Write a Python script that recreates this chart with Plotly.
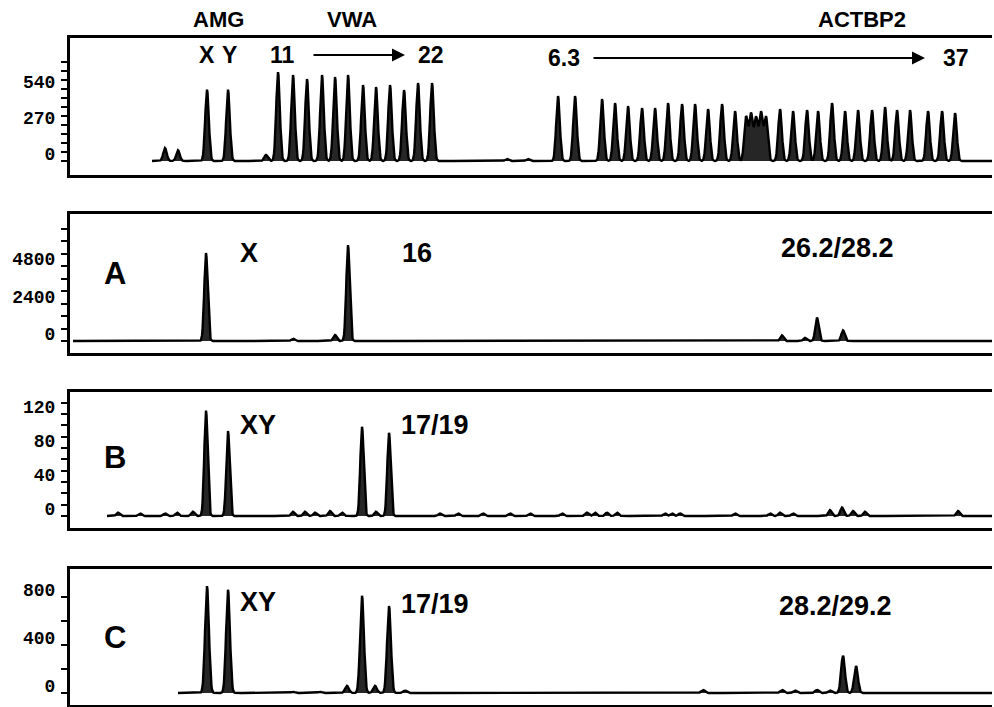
import numpy as np
import plotly.graph_objects as go

# ---------------- data ----------------
# x positions are migration positions (scan units), heights in RFU
ladder_pos = [165, 178, 207, 228, 266,
              278, 293, 307, 322, 335, 348, 363, 376, 390, 404, 418, 432,
              507, 528,
              558, 575, 602, 615, 628, 642, 655, 668, 682, 695, 708, 722, 735,
              746, 751, 756, 761, 766,
              780, 793, 807, 818, 832, 845, 858, 872, 885, 897, 910, 928, 942, 955]
ladder_h = [97, 80, 535, 535, 45,
            667, 645, 615, 645, 630, 645, 570, 555, 570, 532, 585, 585,
            15, 15,
            487, 487, 465, 435, 412, 397, 397, 435, 427, 427, 390, 427, 375,
            330, 350, 320, 360, 330,
            390, 375, 382, 375, 435, 375, 382, 382, 405, 382, 382, 375, 375, 360]

a_pos = [206, 293, 335, 348, 782, 805, 817, 843]
a_h = [5630, 150, 380, 6140, 360, 200, 1500, 680]

b_pos = [118, 140, 165, 177, 193, 206, 228, 293, 305, 315, 330, 342,
         362, 376, 389, 440, 458, 483, 510, 530, 562, 587, 595, 607, 617, 665,
         672, 680, 735, 770, 780, 793, 830, 842, 853, 865, 958]
b_h = [4, 3, 3, 4, 5, 124, 100, 5, 5, 4, 6, 4,
       105, 5, 98, 3, 3, 3, 3, 3, 3, 4, 4, 4, 4, 3,
       3, 3, 3, 3, 4, 3, 7, 10, 6, 5, 6]

c_pos = [207, 228, 293, 320, 347, 362, 375, 389, 405, 703, 782, 795, 817, 830, 843, 856]
c_h = [890, 860, 10, 10, 60, 810, 60, 725, 20, 25, 25, 20, 25, 20, 310, 225]

# trace extents (scan units)
top_span = [152, 992]
a_span = [73, 992]
b_span = [107, 992]
c_span = [178, 992]

top_ticks = [0, 67.5, 135, 202.5, 270, 337.5, 405, 472.5, 540, 607.5, 675, 742.5]
top_labels = ["0", "", "", "", "270", "", "", "", "540", "", "", ""]
a_ticks = [0, 800, 1600, 2400, 3200, 4000, 4800, 5600, 6400, 7200]
a_labels = ["0", "", "", "2400", "", "", "4800", "", "", ""]
b_ticks = [0, 13.33, 26.67, 40, 53.33, 66.67, 80, 93.33, 106.67, 120, 133.33]
b_labels = ["0", "", "", "40", "", "", "80", "", "", "120", ""]
c_ticks = [0, 200, 400, 600, 800]
c_labels = ["0", "", "400", "", "800"]


def trace_curve(pos, h, span, sigma):
    x = np.arange(span[0], span[1] + 0.25, 0.5)
    y = np.zeros_like(x)
    for p, hh in zip(pos, h):
        y += hh * np.exp(-0.5 * ((x - p) / sigma) ** 2)
    return x, y


W, H = 994, 707
fig = go.Figure()

panels = [
    (ladder_pos, ladder_h, top_span, 1.8, (38, 175), (-105, 922.5), top_ticks, top_labels),
    (a_pos, a_h, a_span, 1.7, (214, 353), (-768, 8128), a_ticks, a_labels),
    (b_pos, b_h, b_span, 1.7, (392, 528), (-14.1, 145.9), b_ticks, b_labels),
    (c_pos, c_h, c_span, 1.9, (569, 705), (-100, 1033), c_ticks, c_labels),
]

layout = dict(width=W, height=H, margin=dict(l=0, r=0, t=0, b=0),
              paper_bgcolor="white", plot_bgcolor="white", showlegend=False)

for i, (pos, h, span, sig, (ytop, ybot), yr, tv, tt) in enumerate(panels):
    n = "" if i == 0 else str(i + 1)
    x, y = trace_curve(pos, h, span, sig)
    fig.add_trace(go.Scatter(x=x, y=y, mode="lines", xaxis="x" + n, yaxis="y" + n,
                             line=dict(color="black", width=2.4),
                             fill="tozeroy", fillcolor="rgba(0,0,0,0.85)",
                             hoverinfo="skip"))
    layout["xaxis" + n] = dict(domain=[70 / W, 992 / W], range=[70, 992],
                               showline=True, linecolor="black", linewidth=3,
                               mirror=True, ticks="", showticklabels=False,
                               showgrid=False, zeroline=False,
                               anchor="y" + n)
    layout["yaxis" + n] = dict(domain=[1 - ybot / H, 1 - ytop / H], range=list(yr),
                               showline=True, linecolor="black", linewidth=3,
                               ticks="outside", ticklen=6, tickwidth=2, tickcolor="black",
                               tickmode="array", tickvals=tv, ticktext=tt,
                               ticklabelshift=-7, ticklabelstandoff=2,
                               tickfont=dict(family="Liberation Mono", size=18,
                                             color="black", weight="bold"),
                               showgrid=False, zeroline=False,
                               anchor="x" + n)

fig.update_layout(**layout)


def txt(s, px, py, size):
    fig.add_annotation(text=s, x=px / W, y=1 - py / H, xref="paper", yref="paper",
                       showarrow=False, xanchor="center", yanchor="middle",
                       font=dict(family="Liberation Sans", size=size, color="black",
                                 weight="bold"))


def arrow(x0, x1, py):
    fig.add_annotation(text="", x=x1 / W, y=1 - py / H, xref="paper", yref="paper",
                       ax=x0 - x1, ay=0, axref="pixel", ayref="pixel",
                       showarrow=True, arrowhead=2, arrowsize=1.3, arrowwidth=2,
                       arrowcolor="black")


txt("AMG", 218, 19, 22)
txt("VWA", 352, 19, 22)
txt("ACTBP2", 862, 19, 22)
txt("X", 207, 55, 23)
txt("Y", 229, 55, 23)
txt("11", 282, 55, 23)
arrow(312, 405, 55)
txt("22", 431, 55, 23)
txt("6.3", 564, 58, 23)
arrow(592, 925, 58)
txt("37", 956, 58, 23)

txt("A", 115, 273, 31)
txt("X", 249, 253, 27)
txt("16", 417, 253, 27)
txt("26.2/28.2", 837, 248, 27)

txt("B", 115, 457, 31)
txt("XY", 258, 425, 27)
txt("17/19", 435, 425, 27)

txt("C", 115, 637, 31)
txt("XY", 258, 602, 27)
txt("17/19", 435, 604, 27)
txt("28.2/29.2", 835, 606, 27)

fig.write_html("out.html", config={"displayModeBar": False},
               post_script="document.body.style.margin='0';"
                           "document.body.style.overflow='hidden';")
